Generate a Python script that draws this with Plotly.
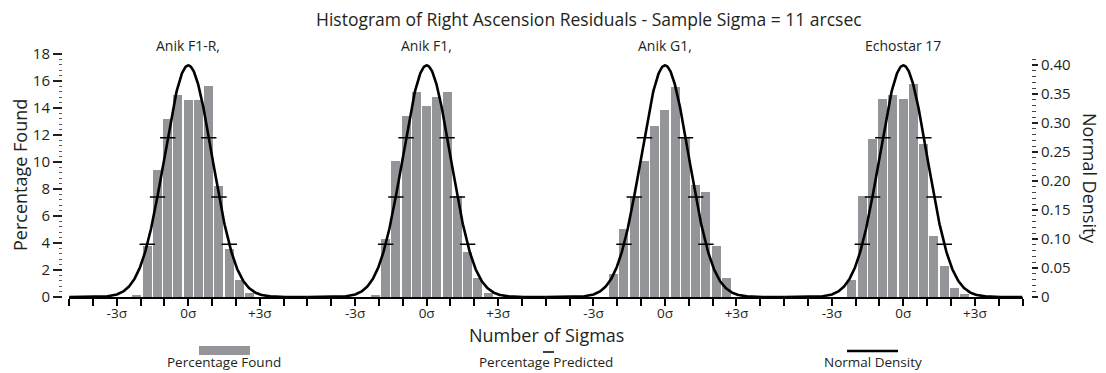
import numpy as np
import plotly.graph_objects as go

# ---------------- data ----------------
panel_names = ["Anik F1-R,", "Anik F1,", "Anik G1,", "Echostar 17"]
panel_offsets_sigma = [0, 10, 20, 30]          # each panel spans -5σ .. +5σ
bin_index = [-5, -4, -3, -2, -1, 0, 1, 2, 3, 4, 5, 6]
bin_width_sigma = 0.43

pct_found_anik_f1r = [0.13, 3.76, 9.44, 13.22, 15.0, 14.56, 14.56, 15.6, 8.19, 3.52, 1.25, 0.26]
pct_found_anik_f1 = [0.11, 4.26, 10.06, 13.44, 15.17, 14.13, 14.85, 15.17, 7.45, 3.32, 1.4, 0.26]
pct_found_anik_g1 = [1.7, 5.05, 7.42, 10.06, 12.65, 13.84, 15.54, 11.84, 8.33, 7.75, 3.76, 1.4]
pct_found_echostar17 = [1.23, 7.47, 11.74, 14.7, 15.0, 14.63, 15.81, 11.37, 4.5, 2.28, 0.65, 0.22]
pct_found = [pct_found_anik_f1r, pct_found_anik_f1, pct_found_anik_g1, pct_found_echostar17]

predicted_index = [-4, -3, -2, 2, 3, 4]
pct_predicted = [3.9, 7.4, 11.8, 11.8, 7.4, 3.9]

sigma_tick_vals = [-3, 0, 3]
sigma_tick_text = ["-3σ", "0σ", "+3σ"]

left_tick_vals = [0, 2, 4, 6, 8, 10, 12, 14, 16, 18]
right_tick_vals = [0, 0.05, 0.10, 0.15, 0.20, 0.25, 0.30, 0.35, 0.40]
right_tick_text = ["0", "0.05", "0.10", "0.15", "0.20", "0.25", "0.30", "0.35", "0.40"]

# ---------------- style / layout ----------------
# page has an 8px body margin, so the figure is drawn 8px smaller and offset
BODY = 8
W_FIG, H_FIG = 1106 - BODY, 373 - BODY
ML, MR, MT, MB = 62 - BODY, 75, 54 - BODY, 76
PW = W_FIG - ML - MR
PH = H_FIG - MT - MB
TXT = "#231F20"
GREY = "#939598"
FONT = "Open Sans"


def px_x(p):  # page pixel -> paper x
    return (p - BODY - ML) / PW


def px_y(p):  # page pixel -> paper y
    return (H_FIG - MB - (p - BODY)) / PH


fig = go.Figure()

# bars
for name, off, vals in zip(panel_names, panel_offsets_sigma, pct_found):
    fig.add_trace(go.Bar(
        x=[off + k * bin_width_sigma for k in bin_index], y=vals,
        width=bin_width_sigma * 0.88, marker=dict(color=GREY, line=dict(width=0)),
        name="Percentage Found", showlegend=False, xaxis="x", yaxis="y",
    ))

# normal density curves (standard normal pdf, right axis)
z = np.linspace(-5, 5, 401)
pdf = np.exp(-0.5 * z ** 2) / np.sqrt(2 * np.pi)
for off in panel_offsets_sigma:
    fig.add_trace(go.Scatter(
        x=z + off, y=pdf, mode="lines", line=dict(color="black", width=2.6),
        name="Normal Density", showlegend=False, xaxis="x", yaxis="y2",
    ))

# predicted percentages
for off in panel_offsets_sigma:
    fig.add_trace(go.Scatter(
        x=[off + k * bin_width_sigma for k in predicted_index], y=pct_predicted,
        mode="markers", marker=dict(symbol="line-ew", size=11, line=dict(color="black", width=1.5)),
        name="Percentage Predicted", showlegend=False, xaxis="x", yaxis="y",
    ))

# x ticks
x_tickvals = list(range(-5, 36))
x_ticktext = []
for v in x_tickvals:
    txt = ""
    for off in panel_offsets_sigma:
        for sv, st in zip(sigma_tick_vals, sigma_tick_text):
            if v == off + sv:
                txt = st
    x_ticktext.append(txt)

ymax_pct = 18.0
ymax_den = ymax_pct / (100 * bin_width_sigma)

fig.update_layout(
    width=W_FIG, height=H_FIG,
    margin=dict(l=ML, r=MR, t=MT, b=MB, pad=0, autoexpand=False),
    paper_bgcolor="white", plot_bgcolor="white",
    barmode="overlay", bargap=0,
    font=dict(family=FONT, color=TXT, size=14),
    showlegend=False,
    xaxis=dict(
        domain=[px_x(69.1), px_x(1022.5)], range=[-5, 35],
        tickmode="array", tickvals=x_tickvals, ticktext=x_ticktext,
        ticks="outside", ticklen=7, tickwidth=1.5, tickcolor="black",
        ticklabelstandoff=-4,
        showline=True, linecolor="black", linewidth=2,
        showgrid=False, zeroline=False, anchor="y",
        tickfont=dict(size=13.5, color=TXT),
    ),
    yaxis=dict(
        range=[0, ymax_pct], anchor="free", position=0,
        tickmode="array", tickvals=left_tick_vals,
        ticks="outside", ticklen=9, tickwidth=1.5, tickcolor=TXT,
        minor=dict(tickmode="array", tickvals=list(np.round(np.arange(0, 18.01, 0.4), 2)),
                   ticks="outside", ticklen=3, tickwidth=1, tickcolor="#555555"),
        showline=False, showgrid=False, zeroline=False,
        tickfont=dict(size=15, color=TXT),
    ),
    yaxis2=dict(
        range=[0, ymax_den], anchor="free", position=1, side="right", overlaying="y",
        tickmode="array", tickvals=right_tick_vals, ticktext=right_tick_text,
        ticks="outside", ticklen=6, tickwidth=1.5, tickcolor=TXT,
        minor=dict(tickmode="array", tickvals=list(np.round(np.arange(0, 0.4101, 0.01), 3)),
                   ticks="outside", ticklen=4, tickwidth=1, tickcolor="#444444"),
        showline=False, showgrid=False, zeroline=False,
        tickfont=dict(size=15, color=TXT),
    ),
)

C = dict(xanchor="center", yanchor="middle", showarrow=False)
ann = []
ann.append(dict(text="Histogram of Right Ascension Residuals - Sample Sigma = 11 arcsec",
                x=px_x(589), y=px_y(19), xref="paper", yref="paper",
                font=dict(size=17.5, color=TXT), **C))
for name, off in zip(panel_names, panel_offsets_sigma):
    ann.append(dict(text=name, x=off, y=px_y(45), xref="x", yref="paper",
                    font=dict(size=14, color=TXT), **C))
ann.append(dict(text="Percentage Found", x=px_x(20), y=px_y(175), xref="paper", yref="paper",
                textangle=-90, font=dict(size=18, color=TXT), **C))
ann.append(dict(text="Normal Density", x=px_x(1090), y=px_y(178), xref="paper", yref="paper",
                textangle=90, font=dict(size=18, color=TXT), **C))
ann.append(dict(text="Number of Sigmas", x=px_x(546), y=px_y(335), xref="paper", yref="paper",
                font=dict(size=18, color=TXT), **C))
# custom legend labels
for label, cx in [("Percentage Found", 224), ("Percentage Predicted", 546), ("Normal Density", 873)]:
    ann.append(dict(text=label, x=px_x(cx), y=px_y(372.5), xref="paper", yref="paper",
                    xanchor="center", yanchor="bottom", showarrow=False,
                    font=dict(size=13.5, color=TXT)))
fig.update_layout(annotations=ann)

shapes = [
    dict(type="rect", xref="paper", yref="paper", x0=px_x(199), x1=px_x(250),
         y0=px_y(355), y1=px_y(346), fillcolor=GREY, line=dict(width=0)),
    dict(type="line", xref="paper", yref="paper", x0=px_x(543), x1=px_x(554),
         y0=px_y(352), y1=px_y(352), line=dict(color="black", width=1.5)),
    dict(type="line", xref="paper", yref="paper", x0=px_x(847), x1=px_x(898),
         y0=px_y(351), y1=px_y(351), line=dict(color="black", width=2.6)),
]
fig.update_layout(shapes=shapes)

fig.write_html("out.html")
